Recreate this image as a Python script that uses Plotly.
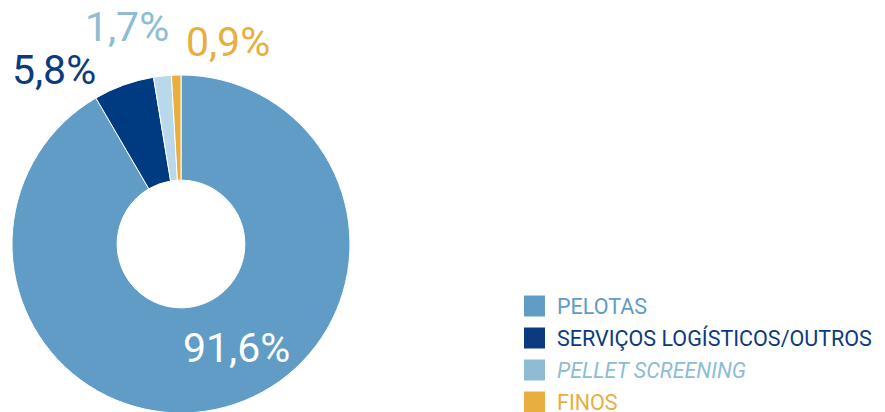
import plotly.graph_objects as go

categories = ["PELOTAS", "SERVIÇOS LOGÍSTICOS/OUTROS", "PELLET SCREENING", "FINOS"]
values = [91.6, 5.8, 1.7, 0.9]
value_labels = ["91,6%", "5,8%", "1,7%", "0,9%"]
slice_colors = ["#609cc6", "#003a80", "#b9d8ea", "#e8ae40"]
text_colors = ["#609cc6", "#0b3a80", "#8dbcd3", "#e8ae40"]
label_colors = ["#ffffff", "#0b3a80", "#8dbcd3", "#e8ae40"]
italic = [False, False, True, False]

W, H = 885, 412
OFF = 8  # page body margin
FONT = "Roboto"

def px(x):
    return (x - OFF) / W

def py(y):
    return 1 - (y - OFF) / H

fig = go.Figure()
fig.add_trace(go.Pie(
    labels=categories, values=values, sort=False, direction="clockwise",
    rotation=0, hole=0.378,
    marker=dict(colors=slice_colors, line=dict(color="#ffffff", width=1)),
    textinfo="none", showlegend=False,
    domain=dict(x=[px(12), px(350)], y=[py(413), py(75)]),
))

# value labels (annotations)
label_pos = [(236, 348), (54, 70), (127, 27), (228, 42)]
for lab, col, (lx, ly) in zip(value_labels, label_colors, label_pos):
    fig.add_annotation(x=px(lx), y=py(ly), xref="paper", yref="paper",
                       text=lab, showarrow=False, xanchor="center", yanchor="middle",
                       font=dict(family=FONT, size=41, color=col))

# manual legend
row_y = [306, 338, 370, 402]
for cat, tc, it, ry in zip(categories, text_colors, italic, row_y):
    fig.add_shape(type="rect", xref="paper", yref="paper",
                  x0=px(524), x1=px(545), y0=py(ry - 10.5), y1=py(ry + 10.5),
                  fillcolor=tc, line=dict(width=0))
    fig.add_annotation(x=px(555), y=py(ry), xref="paper", yref="paper",
                       text=f"<i>{cat}</i>" if it else cat, showarrow=False,
                       xanchor="left", yanchor="middle",
                       font=dict(family=FONT, size=21.5, color=tc))

fig.update_layout(width=W, height=H, margin=dict(l=0, r=0, t=0, b=0),
                  paper_bgcolor="#ffffff", plot_bgcolor="#ffffff")
fig.write_html("out.html")
